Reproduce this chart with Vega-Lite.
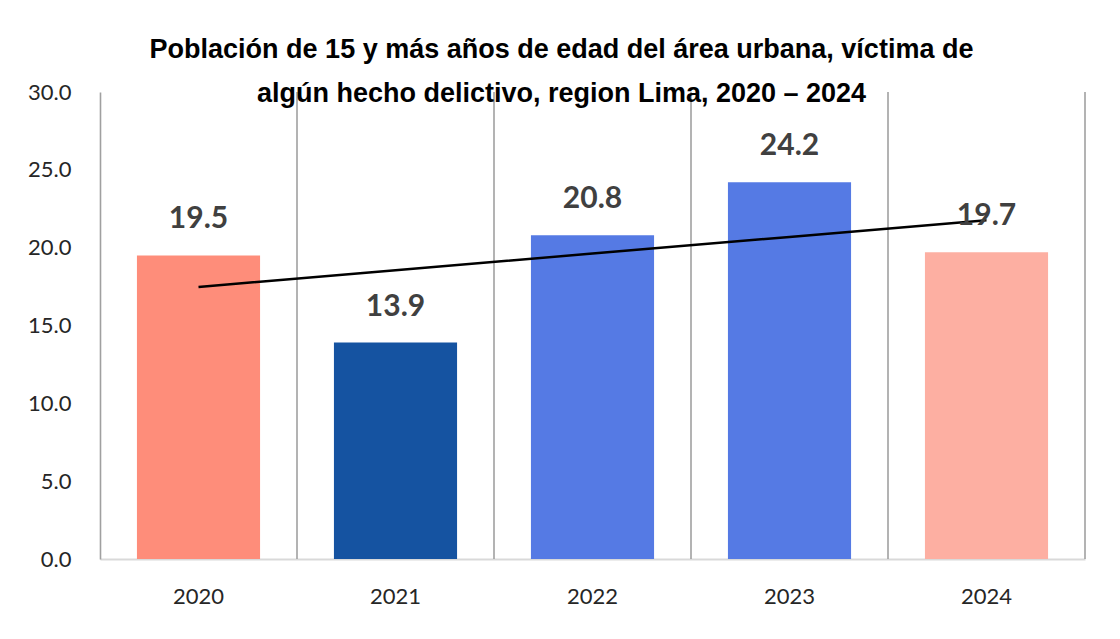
{
  "$schema": "https://vega.github.io/schema/vega-lite/v6.json",
  "autosize": "none",
  "width": 985,
  "height": 467,
  "padding": {"left": 100, "top": 92, "right": 35, "bottom": 80},
  "background": "white",
  "title": {
    "text": ["Población de 15 y más años de edad del área urbana, víctima de", "algún hecho delictivo, region Lima, 2020 – 2024"],
    "font": "Liberation Sans",
    "fontSize": 27,
    "fontWeight": "bold",
    "color": "#000000",
    "lineHeight": 44,
    "anchor": "middle",
    "frame": "group",
    "dx": -31,
    "offset": -27
  },
  "data": {
    "values": [
      {"year": "2020", "pct": 19.5, "trend": 17.48},
      {"year": "2021", "pct": 13.9, "trend": 18.55},
      {"year": "2022", "pct": 20.8, "trend": 19.62},
      {"year": "2023", "pct": 24.2, "trend": 20.69},
      {"year": "2024", "pct": 19.7, "trend": 21.76}
    ]
  },
  "config": {
    "view": {"stroke": null},
    "axis": {"labelFont": "Lato", "labelFontSize": 22, "labelColor": "#262626", "ticks": false, "grid": false, "title": null}
  },
  "encoding": {
    "x": {
      "field": "year",
      "type": "ordinal",
      "scale": {"paddingInner": 0, "paddingOuter": 0},
      "axis": {"labelAngle": 0, "labelPadding": 27, "domainColor": "#d9d9d9", "domainWidth": 2}
    }
  },
  "layer": [
    {
      "mark": {"type": "rule", "color": "#a0a0a0", "strokeWidth": 1.6},
      "encoding": {"x": {"field": "year", "type": "ordinal", "bandPosition": 1}}
    },
    {
      "mark": {"type": "bar", "width": {"band": 0.625}},
      "encoding": {
        "y": {
          "field": "pct",
          "type": "quantitative",
          "scale": {"domain": [0, 30], "nice": false},
          "axis": {"values": [0, 5, 10, 15, 20, 25, 30], "format": ".1f", "labelPadding": 29, "domainColor": "#a0a0a0", "domainWidth": 1.6}
        },
        "color": {
          "field": "year",
          "type": "nominal",
          "scale": {"domain": ["2020", "2021", "2022", "2023", "2024"], "range": ["#FE8D7A", "#1553A1", "#557AE4", "#557AE4", "#FDAFA2"]},
          "legend": null
        }
      }
    },
    {
      "mark": {"type": "line", "color": "#000000", "strokeWidth": 2.5},
      "encoding": {"y": {"field": "trend", "type": "quantitative"}}
    },
    {
      "mark": {"type": "text", "font": "Lato", "fontSize": 30, "fontWeight": "bold", "color": "#404040", "baseline": "middle", "dy": -36},
      "encoding": {
        "y": {"field": "pct", "type": "quantitative"},
        "text": {"field": "pct", "type": "quantitative", "format": ".1f"}
      }
    }
  ]
}
